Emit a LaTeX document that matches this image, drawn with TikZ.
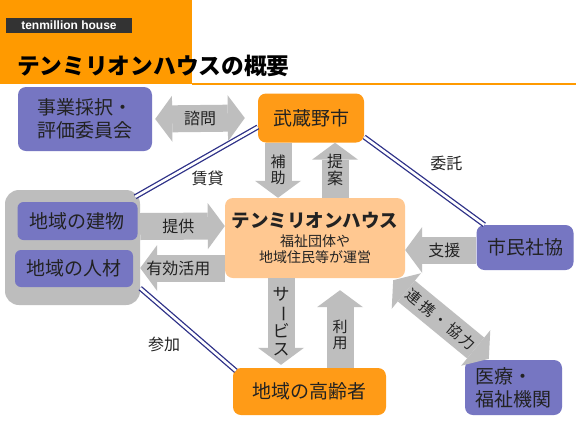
\documentclass[tikz,border=0pt]{standalone}
\usepackage{fontspec}
\setmainfont{Noto Sans CJK JP}
\newfontfamily\latinsans{Liberation Sans}
\usetikzlibrary{arrows.meta,positioning}

\definecolor{hdrorange}{HTML}{FF9A00}
\definecolor{boxorange}{HTML}{FF9B17}
\definecolor{paleorange}{HTML}{FFC891}
\definecolor{boxblue}{HTML}{7676C2}
\definecolor{groupgray}{HTML}{BDBDBD}
\definecolor{arrowgray}{HTML}{BEBEBE}
\definecolor{linenavy}{HTML}{2E3188}
\definecolor{textdark}{HTML}{222222}
\definecolor{tagdark}{HTML}{333333}

\begin{document}
\begin{tikzpicture}[
    x=1pt, y=-1pt,
    box/.style={rectangle, rounded corners=8pt, align=center, inner sep=2pt,
                text=textdark, font=\fontsize{19}{23}\selectfont},
    bluebox/.style={box, fill=boxblue},
    orangebox/.style={box, fill=boxorange},
    fatarrow/.style={draw=arrowgray, line width=27pt,
                     -{Triangle[length=17pt, width=46pt, line width=0pt]}},
    twinarrow/.style={draw=arrowgray, line width=27pt,
                      {Triangle[length=17pt, width=46pt, line width=0pt]}-{Triangle[length=17pt, width=46pt, line width=0pt]}},
    tag/.style={text=textdark, inner sep=0pt, font=\fontsize{16}{17}\selectfont},
    vtag/.style={tag, align=center},
    link/.style={draw=linenavy, line width=1.3pt, double=white, double distance=2.6pt}
]
\useasboundingbox (0,0) rectangle (576,432);
\fill[white] (0,0) rectangle (576,432);

% header
\fill[hdrorange] (0,0) rectangle (192,84);
\draw[hdrorange, line width=1.5pt] (192,84) -- (576,84);
\node[fill=tagdark, text=white, minimum width=126pt, minimum height=15pt, inner sep=0pt,
      font=\latinsans\bfseries\fontsize{12}{12}\selectfont] (brand) at (69,25.5) {tenmillion house};
\node[anchor=west, inner sep=0pt, text=black, font=\bfseries\fontsize{22.7}{24}\selectfont]
      (title) at (17,66) {テンミリオンハウスの概要};

% boxes
\node[bluebox, minimum width=134pt, minimum height=64pt, align=left] (committee) at (85,119) {事業採択・\\評価委員会};
\node[orangebox, minimum width=106pt, minimum height=49pt] (city) at (311,118) {武蔵野市};
\node[box, fill=paleorange, minimum width=180pt, minimum height=80pt,
      font=\fontsize{14}{16}\selectfont] (house) at (315,238)
     {\bfseries\fontsize{18.5}{22}\selectfont テンミリオンハウス\\[3pt]
      福祉団体や\\地域住民等が運営};
\node[bluebox, minimum width=97pt, minimum height=45pt] (civic) at (525,247.5) {市民社協};
\node[box, fill=groupgray, rounded corners=14pt, minimum width=135pt, minimum height=115pt] (area) at (72.5,247.5) {};
\node[bluebox, rounded corners=6pt, minimum width=120pt, minimum height=38pt] (building) at (77.5,221) {地域の建物};
\node[bluebox, rounded corners=6pt, minimum width=118pt, minimum height=37pt] (people) at (74,268.5) {地域の人材};
\node[orangebox, minimum width=153pt, minimum height=47pt] (elderly) at (309.5,391.5) {地域の高齢者};
\node[bluebox, minimum width=97pt, minimum height=55pt, align=left] (medical) at (513.5,387.5) {医療・\\福祉機関};

% links
\draw[link] ([yshift=-9pt]city.west) -- ([shift={(-5,7)}]area.north east)
    node[pos=0.5, tag, shift={(11,17)}] {賃貸};
\draw[link] ([yshift=-19pt]city.east) -- ([xshift=8pt]civic.north west)
    node[pos=0.5, tag, shift={(22,-17)}] {委託};
\draw[link] ([yshift=17pt]area.south east) -- ([shift={(3,3)}]elderly.north west)
    node[pos=0.5, tag, shift={(-24,15)}] {参加};

% big arrows
\draw[twinarrow] ([xshift=3pt]committee.east) -- ([xshift=-13pt]city.west)
    node[midway, tag] {諮問};
\draw[fatarrow] ([xshift=-33pt]city.south) -- ([xshift=-37pt]house.north)
    node[midway, vtag, font=\fontsize{15}{16}\selectfont] {補\\助};
\draw[fatarrow] ([xshift=20pt]house.north) -- ([xshift=24pt]city.south)
    node[midway, vtag] {提\\案};
\draw[fatarrow] ([yshift=21pt]area.east) -- ([yshift=12pt]house.west)
    node[pos=0.45, tag] {提供};
\draw[fatarrow] ([yshift=-30pt]house.west) -- ([yshift=-20.5pt]area.east)
    node[pos=0.55, tag] {有効活用};
\draw[fatarrow] ([yshift=-2.5pt]civic.west) -- ([yshift=-12pt]house.east)
    node[pos=0.45, tag] {支援};
\draw[fatarrow] ([xshift=-34pt]house.south) -- ([xshift=-28.5pt, yshift=3pt]elderly.north)
    node[midway, vtag, font=\fontsize{17}{17.5}\selectfont] {サ\\\rotatebox[origin=c]{-90}{ー}\\ビ\\ス};
\draw[fatarrow] ([xshift=30.5pt]elderly.north) -- ([xshift=25pt, yshift=-12pt]house.south)
    node[pos=0.42, vtag, font=\fontsize{15}{16}\selectfont] {利\\用};
\draw[twinarrow] ([shift={(-12,2)}]house.south east) -- ([shift={(24,-1)}]medical.north west)
    node[midway, sloped, tag, font=\fontsize{15}{16}\selectfont] {連\,携\,・\,協\,力};
\end{tikzpicture}
\end{document}
